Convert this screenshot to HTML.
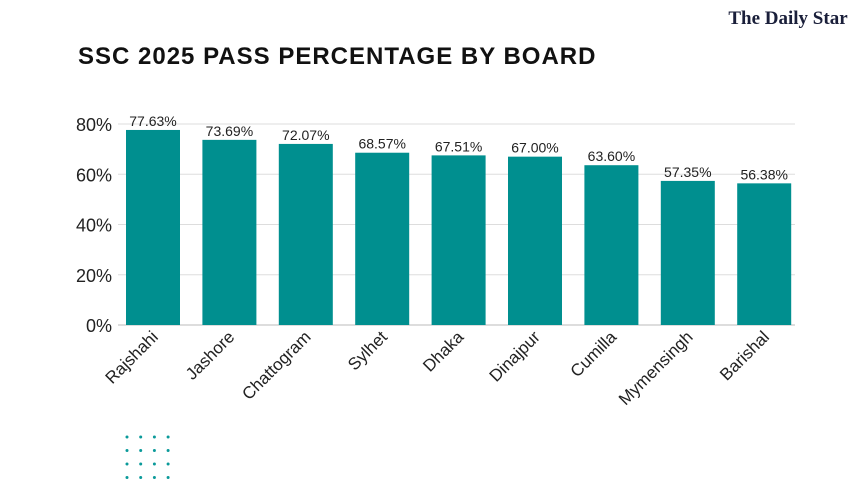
<!DOCTYPE html>
<html><head><meta charset="utf-8">
<style>
body{margin:0;background:#fff;}
svg text{font-family:"Liberation Sans",sans-serif;}
</style></head>
<body>
<svg id="chart" width="860" height="484" viewBox="0 0 860 484" xmlns="http://www.w3.org/2000/svg">
<rect width="860" height="484" fill="#fff"/>
<text x="78" y="64" font-size="24" font-weight="bold" fill="#111" letter-spacing="1">SSC 2025 PASS PERCENTAGE BY BOARD</text>
<text x="788" y="24" text-anchor="middle" font-size="19" font-weight="bold" fill="#1a1f3a" style="font-family:'Liberation Serif',serif">The Daily Star</text>
<g id="grid"></g><g id="bars"></g><g id="labels"></g><g id="dots"></g>
</svg>
<script>
const categories=["Rajshahi","Jashore","Chattogram","Sylhet","Dhaka","Dinajpur","Cumilla","Mymensingh","Barishal"];
const values=[77.63,73.69,72.07,68.57,67.51,67.00,63.60,57.35,56.38];
const valueLabels=["77.63%","73.69%","72.07%","68.57%","67.51%","67.00%","63.60%","57.35%","56.38%"];
const ticks=[0,20,40,60,80];
const tickLabels=["0%","20%","40%","60%","80%"];
const NS="http://www.w3.org/2000/svg";
const x0=118,x1=795,y0=325,yTop=124;
const y=v=>y0-(v/80)*(y0-yTop);
const step=76.4;
const bw=54;
const xc=i=>153+step*i;
function mk(t,a,p){const e=document.createElementNS(NS,t);for(const k in a)e.setAttribute(k,a[k]);p.appendChild(e);return e;}
const g=document.getElementById('grid'),b=document.getElementById('bars'),l=document.getElementById('labels'),d=document.getElementById('dots');
ticks.forEach((t,i)=>{
 const ln=mk('line',{x1:x0,x2:x1,y1:y(t),y2:y(t),stroke:t===0?'#bbb':'#ddd','stroke-width':1},g);
 
 
 const tx=mk('text',{x:112,y:y(t)+7,'text-anchor':'end','font-size':18,fill:'#222'},g);
 tx.textContent=tickLabels[i];
 
 
});
categories.forEach((c,i)=>{
 const r=mk('rect',{x:xc(i)-bw/2,y:y(values[i]),width:bw,height:y0-y(values[i]),fill:'#008f8f'},b);
 
 
 const v=mk('text',{x:xc(i),y:y(values[i])-4,'text-anchor':'middle','font-size':14,fill:'#222'},l);
 v.textContent=valueLabels[i];
 
 
 const cx=xc(i)+6,cy=338;
 const t=mk('text',{x:cx,y:cy,'text-anchor':'end','font-size':17,fill:'#222',transform:`rotate(-45 ${cx} ${cy})`},l);
 t.textContent=c;
 
 
});
for(let r=0;r<4;r++)for(let c=0;c<4;c++){
 const dot=mk('circle',{cx:127+c*13.7,cy:437+r*13.5,r:1.5,fill:'#0a9a9a'},d);
 
 
}
</script>
</body></html>
